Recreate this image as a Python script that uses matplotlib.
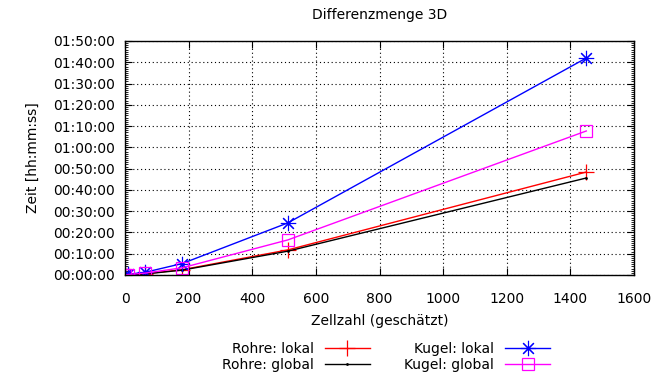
import matplotlib
matplotlib.use("Agg")
import matplotlib.pyplot as plt
from matplotlib.ticker import FuncFormatter, MultipleLocator

# cell counts (estimated) and times in minutes
x_vals = [1, 8, 64, 180, 512, 1450]
rohre_lokal = [0.02, 0.1, 0.6, 2.5, 11.8, 48.4]
rohre_global = [0.02, 0.1, 0.5, 2.3, 11.2, 45.6]
kugel_lokal = [0.05, 0.3, 1.3, 5.4, 24.5, 102.0]
kugel_global = [0.04, 0.2, 0.9, 3.4, 16.5, 67.7]

labels = ["Rohre: lokal", "Rohre: global", "Kugel: lokal", "Kugel: global"]
title = "Differenzmenge 3D"
xlabel = "Zellzahl (geschätzt)"
ylabel = "Zeit [hh:mm:ss]"

fig = plt.figure(figsize=(6.58, 3.77), dpi=100)
ax = fig.add_axes([125/658, 1-275/377, (634-125)/658, (275-41)/377])

ax.plot(x_vals, rohre_lokal, color="red", lw=1, marker="+", ms=12, mew=0.9, label=labels[0])
ax.plot(x_vals, rohre_global, color="black", lw=1, marker=".", ms=2, label=labels[1])
ax.plot(x_vals, kugel_lokal, color="blue", lw=1, marker=(8, 2, 0), ms=11, mew=0.8, label=labels[2])
ax.plot(x_vals, kugel_global, color="magenta", lw=1, marker="s", ms=8, mfc="none", mew=0.9, label=labels[3])

ax.set_xlim(0, 1600)
ax.set_ylim(0, 110)
ax.xaxis.set_major_locator(MultipleLocator(200))
ax.yaxis.set_major_locator(MultipleLocator(10))
ax.yaxis.set_minor_locator(MultipleLocator(1))

def fmt(v, pos):
    total = int(round(v * 60))
    h = total // 3600
    m = (total % 3600) // 60
    s = total % 60
    return f"{h:02d}:{m:02d}:{s:02d}"

ax.yaxis.set_major_formatter(FuncFormatter(fmt))
ax.tick_params(which="both", direction="in", top=True, right=True, labelsize=10, colors="black")
ax.tick_params(which="major", length=5)
ax.tick_params(which="minor", length=2.5)
ax.tick_params(axis="x", which="major", pad=12)
ax.tick_params(axis="y", which="major", pad=7)
ax.grid(True, which="major", color="black", linestyle=(0, (1, 2.5)), linewidth=0.8)
for sp in ax.spines.values():
    sp.set_linewidth(1)

ax.set_title(title, fontsize=10, pad=16)
ax.set_xlabel(xlabel, fontsize=10, labelpad=6)
ax.set_ylabel(ylabel, fontsize=10, labelpad=10)

fig.legend(loc="center", bbox_to_anchor=(386/658, 1-357/377), ncol=2, markerfirst=False,
           frameon=False, fontsize=10, handlelength=3.2, columnspacing=2.5,
           labelspacing=0.1, handletextpad=0.8)

fig.savefig("out.png", dpi=100)
